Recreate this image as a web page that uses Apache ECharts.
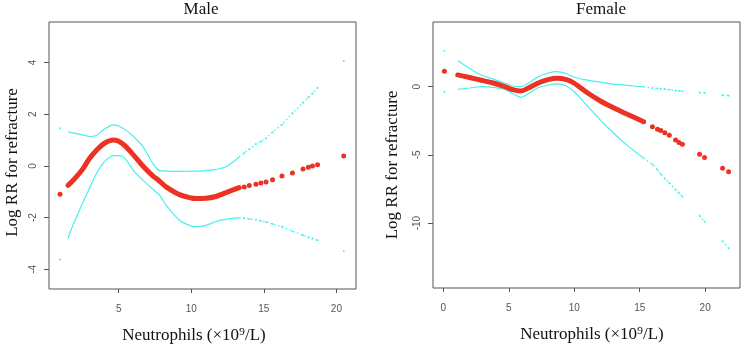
<!DOCTYPE html>
<html>
<head>
<meta charset="utf-8">
<script src="https://cdn.jsdelivr.net/npm/echarts@6/dist/echarts.min.js"></script>
<style>
  html, body { margin: 0; padding: 0; background: #fff; }
  #chart { width: 742px; height: 344px; }
</style>
</head>
<body>
<div id="chart"></div>
<script>
// Male: dense part of the curve (drawn as a line)
const maleX = [1.51, 1.75, 2.0, 2.5, 3.0, 3.46, 4.0, 4.65, 5.29, 5.98, 6.67, 7.35, 7.8, 8.27, 9.19, 10.0, 10.3, 11.0, 11.7, 12.4, 13.3];
const maleFit = [-0.75, -0.62, -0.47, -0.14, 0.3, 0.6, 0.87, 1.0, 0.85, 0.45, 0.0, -0.38, -0.58, -0.81, -1.11, -1.24, -1.26, -1.25, -1.18, -1.03, -0.84];
const maleUpper = [1.33, 1.29, 1.26, 1.2, 1.14, 1.18, 1.42, 1.59, 1.46, 1.16, 0.75, 0.1, -0.18, -0.2, -0.21, -0.2, -0.2, -0.18, -0.13, -0.03, 0.35];
const maleLower = [-2.81, -2.43, -2.1, -1.45, -0.85, -0.3, 0.15, 0.4, 0.36, -0.15, -0.55, -0.9, -1.12, -1.52, -2.1, -2.33, -2.35, -2.3, -2.15, -2.06, -2.01];
// Male: sparse observations at the ends (drawn as points)
const maleTailX = [0.96, 13.65, 14.0, 14.46, 14.8, 15.15, 15.6, 16.25, 16.97, 17.7, 18.07, 18.35, 18.7, 20.5];
const maleTailFit = [-1.09, -0.81, -0.76, -0.71, -0.66, -0.62, -0.53, -0.39, -0.27, -0.12, -0.05, 0.0, 0.05, 0.39];
const maleTailUpper = [1.46, 0.5, 0.65, 0.85, 0.95, 1.07, 1.3, 1.6, 2.04, 2.45, 2.65, 2.8, 3.03, 4.06];
const maleTailLower = [-3.62, -2.02, -2.05, -2.08, -2.12, -2.17, -2.25, -2.35, -2.53, -2.68, -2.76, -2.81, -2.87, -3.3];

// Female
const femaleX = [1.1, 2.0, 2.9, 3.8, 4.7, 5.3, 5.9, 6.5, 7.2, 8.0, 8.7, 9.4, 10.0, 11.0, 12.0, 13.0, 14.0, 15.3];
const femaleFit = [0.86, 0.67, 0.47, 0.27, 0.0, -0.22, -0.32, -0.1, 0.25, 0.52, 0.62, 0.52, 0.25, -0.45, -1.05, -1.55, -2.0, -2.57];
const femaleUpper = [1.91, 1.33, 0.85, 0.55, 0.27, 0.05, 0.0, 0.25, 0.7, 1.0, 1.1, 0.95, 0.69, 0.48, 0.33, 0.18, 0.1, -0.02];
const femaleLower = [-0.19, -0.1, 0.0, -0.05, -0.2, -0.5, -0.78, -0.5, -0.1, 0.12, 0.2, 0.05, -0.37, -1.42, -2.45, -3.4, -4.27, -5.25];
const femaleTailX = [0.08, 15.97, 16.36, 16.61, 16.92, 17.26, 17.74, 18.0, 18.26, 19.57, 19.95, 21.33, 21.79];
const femaleTailFit = [1.13, -2.93, -3.13, -3.22, -3.37, -3.56, -3.91, -4.1, -4.22, -4.96, -5.2, -5.98, -6.23];
const femaleTailUpper = [2.64, -0.1, -0.13, -0.15, -0.18, -0.22, -0.28, -0.31, -0.33, -0.43, -0.45, -0.63, -0.66];
const femaleTailLower = [-0.37, -5.7, -6.1, -6.4, -6.75, -7.05, -7.55, -7.8, -8.05, -9.47, -9.9, -11.33, -11.85];

const maleXTicks = [5, 10, 15, 20];
const maleYTicks = [-4, -2, 0, 2, 4];
const femaleXTicks = [0, 5, 10, 15, 20];
const femaleYTicks = [-10, -5, 0];

const RED = "#ec3323";
const CYAN = "#45f0f0";
const AXIS = "#555";
const SERIF = "Liberation Serif";

const chart = echarts.init(document.getElementById("chart"));

function pairs(xs, ys) {
  return xs.map((x, i) => [x, ys[i]]);
}

// dotted segments joining the right-hand tail points (gaps > 1 unit stay open)
function tailSegments(xs, ys, tx, ty) {
  const segs = [];
  let cur = [[xs[xs.length - 1], ys[ys.length - 1]]];
  tx.forEach((x, i) => {
    if (x <= xs[xs.length - 1]) return;
    const prev = cur[cur.length - 1];
    if (x - prev[0] > 1.0) {
      if (cur.length > 1) segs.push(cur);
      cur = [];
    }
    cur.push([x, ty[i]]);
  });
  if (cur.length > 1) segs.push(cur);
  return segs;
}

function panelSeries(idx, xs, fit, up, lo, tx, tfit, tup, tlo) {
  const base = { xAxisIndex: idx, yAxisIndex: idx, silent: true, animation: false };
  const out = [];
  [up, lo].forEach((ys) => {
    out.push({ ...base, type: "line", data: pairs(xs, ys), smooth: 0.3, showSymbol: false, lineStyle: { color: CYAN, width: 1.2 } });
  });
  [[up, tup], [lo, tlo]].forEach(([ys, ty]) => {
    tailSegments(xs, ys, tx, ty).forEach((seg) => {
      out.push({ ...base, type: "line", data: seg, showSymbol: false, lineStyle: { color: CYAN, width: 1.3, type: [1.5, 2.5] } });
    });
    out.push({ ...base, type: "scatter", data: pairs(tx, ty), symbolSize: 2, itemStyle: { color: CYAN, opacity: 1 } });
  });
  out.push({ ...base, type: "line", data: pairs(xs, fit), smooth: 0.3, showSymbol: false, lineStyle: { color: RED, width: 5, cap: "round", join: "round" } });
  out.push({ ...base, type: "scatter", data: pairs(tx, tfit), symbolSize: 5, itemStyle: { color: RED, opacity: 1 } });
  return out;
}

function xAxis(idx, min, max, ticks, pad) {
  return {
    type: "value", gridIndex: idx, min, max,
    splitLine: { show: false },
    axisLine: { show: false, onZero: false },
    axisTick: { show: true, inside: false, length: 4, customValues: ticks, lineStyle: { color: AXIS } },
    axisLabel: { customValues: ticks, color: AXIS, fontSize: 10, fontFamily: "Liberation Sans", margin: 15 },
    name: "Neutrophils (×10⁹/L)", nameLocation: "middle", nameGap: 38,
    nameTextStyle: { fontFamily: SERIF, fontSize: 17, color: "#111", padding: pad },
  };
}

function yAxis(idx, min, max, ticks, gap, pad) {
  return {
    type: "value", gridIndex: idx, min, max,
    splitLine: { show: false },
    axisLine: { show: false, onZero: false },
    axisTick: { show: true, inside: false, length: 5, customValues: ticks, lineStyle: { color: AXIS } },
    axisLabel: { customValues: ticks, color: AXIS, fontSize: 10, fontFamily: "Liberation Sans", rotate: 90, margin: 11 },
    name: "Log RR for refracture", nameLocation: "middle", nameGap: gap, nameRotate: 90,
    nameTextStyle: { fontFamily: SERIF, fontSize: 17, color: "#111", padding: pad },
  };
}

const option = {
  backgroundColor: "#fff",
  animation: false,
  title: [
    { text: "Male", left: 196, top: -4, textAlign: "center", textStyle: { fontFamily: SERIF, fontSize: 17, fontWeight: "normal", color: "#111" } },
    { text: "Female", left: 596, top: -4, textAlign: "center", textStyle: { fontFamily: SERIF, fontSize: 17, fontWeight: "normal", color: "#111" } },
  ],
  grid: [
    { left: 49, top: 22, width: 307, height: 267, show: true, borderColor: AXIS, borderWidth: 1, outerBoundsMode: "none" },
    { left: 433, top: 22, width: 307, height: 266, show: true, borderColor: AXIS, borderWidth: 1, outerBoundsMode: "none" },
  ],
  xAxis: [
    xAxis(0, 0.2, 21.35, maleXTicks, [0, 17, 0, 0]),
    xAxis(1, -0.79, 22.66, femaleXTicks, [0, 0, 0, 11]),
  ],
  yAxis: [
    yAxis(0, -4.76, 5.57, maleYTicks, 28, [0, 14, 0, 0]),
    yAxis(1, -14.76, 4.74, femaleYTicks, 32, [0, 20, 0, 0]),
  ],
  series: [
    ...panelSeries(0, maleX, maleFit, maleUpper, maleLower, maleTailX, maleTailFit, maleTailUpper, maleTailLower),
    ...panelSeries(1, femaleX, femaleFit, femaleUpper, femaleLower, femaleTailX, femaleTailFit, femaleTailUpper, femaleTailLower),
  ],
};

chart.setOption(option);
</script>
</body>
</html>
